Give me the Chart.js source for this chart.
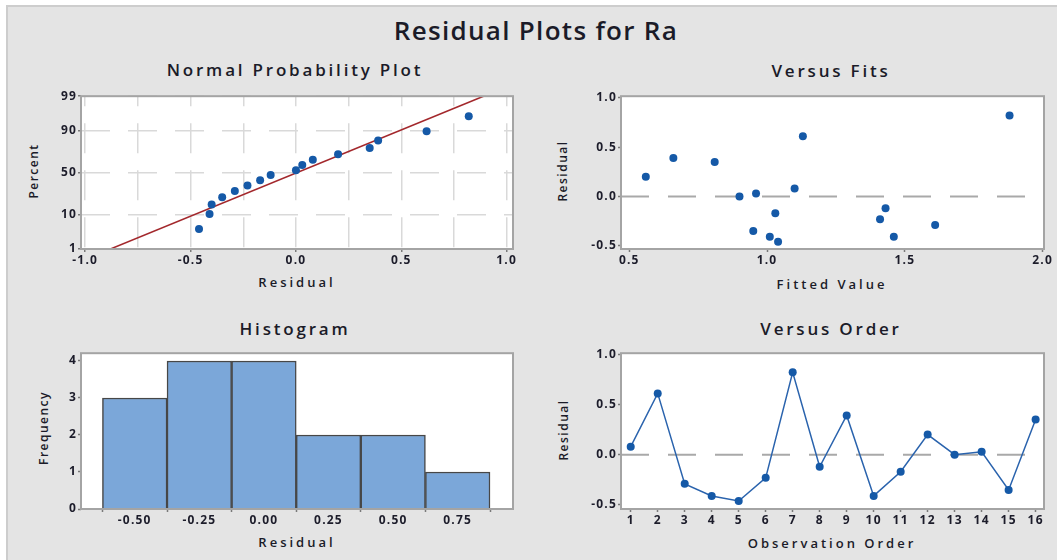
<!DOCTYPE html>
<html>
<head>
<meta charset="utf-8">
<script src="https://cdn.jsdelivr.net/npm/chart.js@4"></script>
<style>
body { margin: 0; width: 1057px; height: 560px; overflow: hidden; position: relative; background: #fff; font-family: "Open Sans", sans-serif; }
#frame { position: absolute; left: 6px; top: 5px; width: 1070px; height: 580px; background: #e4e4e4; border: 2px solid #cdcdcd; box-sizing: border-box; }
.t { position: absolute; color: #1b1b28; white-space: nowrap; transform: translate(-50%, -50%); font-weight: 600; }
.main { font-size: 26px; letter-spacing: 1.3px; }
.pt { font-size: 17px; letter-spacing: 2.8px; }
.ax { font-size: 13px; letter-spacing: 3px; }
.ay { font-size: 12px; letter-spacing: 1.5px; transform: translate(-50%, -50%) rotate(-90deg); }
canvas { position: absolute; }
</style>
</head>
<body>
<div id="frame"></div>

<div class="t main" style="left:536px;top:30px">Residual Plots for Ra</div>
<div class="t pt" style="left:295px;top:69px">Normal Probability Plot</div>
<div class="t pt" style="left:831px;top:70px">Versus Fits</div>
<div class="t pt" style="left:295px;top:328px">Histogram</div>
<div class="t pt" style="left:831px;top:328px">Versus Order</div>

<div class="t ax" style="left:297px;top:282px">Residual</div>
<div class="t ax" style="left:832px;top:284px">Fitted Value</div>
<div class="t ax" style="left:297px;top:542px">Residual</div>
<div class="t ax" style="left:832px;top:543px">Observation Order</div>

<div class="t ay" style="left:33px;top:171px">Percent</div>
<div class="t ay" style="left:562px;top:171px">Residual</div>
<div class="t ay" style="left:43px;top:428px">Frequency</div>
<div class="t ay" style="left:563px;top:430px">Residual</div>

<canvas id="normPlot" width="520" height="210" style="left:10px;top:88px"></canvas>
<canvas id="fitsPlot" width="505" height="210" style="left:548px;top:88px"></canvas>
<canvas id="histPlot" width="520" height="215" style="left:10px;top:345px"></canvas>
<canvas id="orderPlot" width="505" height="215" style="left:548px;top:345px"></canvas>

<script>
// normal probability plot (residuals sorted, percent)
const normResidual = [-0.46, -0.41, -0.40, -0.35, -0.29, -0.23, -0.17, -0.12, 0.00, 0.03, 0.08, 0.20, 0.35, 0.39, 0.62, 0.82];
const normPercent = [4.3, 10.4, 16.5, 22.6, 28.7, 34.8, 40.9, 47.0, 53.0, 59.1, 65.2, 71.3, 77.4, 83.5, 89.6, 95.7];
const fitLineResidual = [-0.88, 0.89];
const fitLinePercent = [1, 99];
const percentTicks = [1, 10, 50, 90, 99];
const normXTicks = [-1.0, -0.75, -0.5, -0.25, 0, 0.25, 0.5, 0.75, 1.0];

// versus fits / versus order
const observation = [1, 2, 3, 4, 5, 6, 7, 8, 9, 10, 11, 12, 13, 14, 15, 16];
const residual = [0.08, 0.61, -0.29, -0.41, -0.46, -0.23, 0.82, -0.12, 0.39, -0.41, -0.17, 0.20, 0.00, 0.03, -0.35, 0.35];
const fittedValue = [1.10, 1.13, 1.61, 1.01, 1.04, 1.41, 1.88, 1.43, 0.66, 1.46, 1.03, 0.56, 0.90, 0.96, 0.95, 0.81];
const fitsXTicks = [0.5, 1.0, 1.5, 2.0];
const residualTicks = [-0.5, 0.0, 0.5, 1.0];
const referenceLevel = 0;

// histogram
const binMid = [-0.50, -0.25, 0.00, 0.25, 0.50, 0.75];
const frequency = [3, 4, 4, 2, 2, 1];
const freqTicks = [0, 1, 2, 3, 4];

const blue = '#1559a7';
const gridGrey = '#d9d9d9';

Chart.defaults.font.family = '"Open Sans", sans-serif';
Chart.defaults.font.size = 12;
Chart.defaults.font.weight = 'bold';
Chart.defaults.color = '#1c1c2a';
Chart.defaults.animation = false;
Chart.defaults.plugins.legend.display = false;
Chart.defaults.plugins.tooltip.enabled = false;

// inverse normal cdf, used to put percent on a probability scale
function probit(pct) {
    const p = pct / 100;
    const a = [-3.969683028665376e+01, 2.209460984245205e+02, -2.759285104469687e+02, 1.383577518672690e+02, -3.066479806614716e+01, 2.506628277459239e+00];
    const b = [-5.447609879822406e+01, 1.615858368580409e+02, -1.556989798598866e+02, 6.680131188771972e+01, -1.328068155288572e+01];
    const c = [-7.784894002430293e-03, -3.223964580411365e-01, -2.400758277161838e+00, -2.549732539343734e+00, 4.374664141464968e+00, 2.938163982698783e+00];
    const d = [7.784695709041462e-03, 3.224671290700398e-01, 2.445134137142996e+00, 3.754408661907416e+00];
    const pl = 0.02425;
    let q, r;
    if (p < pl) {
        q = Math.sqrt(-2 * Math.log(p));
        return (((((c[0] * q + c[1]) * q + c[2]) * q + c[3]) * q + c[4]) * q + c[5]) / ((((d[0] * q + d[1]) * q + d[2]) * q + d[3]) * q + 1);
    }
    if (p > 1 - pl) {
        q = Math.sqrt(-2 * Math.log(1 - p));
        return -(((((c[0] * q + c[1]) * q + c[2]) * q + c[3]) * q + c[4]) * q + c[5]) / ((((d[0] * q + d[1]) * q + d[2]) * q + d[3]) * q + 1);
    }
    q = p - 0.5;
    r = q * q;
    return (((((a[0] * r + a[1]) * r + a[2]) * r + a[3]) * r + a[4]) * r + a[5]) * q / (((((b[0] * r + b[1]) * r + b[2]) * r + b[3]) * r + b[4]) * r + 1);
}

// white plot area + grey box round it, slightly spaced tick text
const plotFrame = {
    id: 'plotFrame',
    beforeDraw(chart) {
        const a = chart.chartArea;
        const ctx = chart.ctx;
        ctx.letterSpacing = '1.2px';
        ctx.save();
        ctx.fillStyle = '#ffffff';
        ctx.fillRect(a.left, a.top, a.right - a.left, a.bottom - a.top);
        ctx.restore();
    },
    afterDraw(chart) {
        const a = chart.chartArea;
        const ctx = chart.ctx;
        ctx.save();
        ctx.strokeStyle = '#a4a4a4';
        ctx.lineWidth = 2;
        ctx.strokeRect(a.left, a.top, a.right - a.left, a.bottom - a.top);
        ctx.restore();
    }
};

function fixedTicks(list) {
    return scale => { scale.ticks = list.map(v => ({ value: v })); };
}

function xAxis(min, max, tickList, height, label, extra) {
    return Object.assign({
        type: 'linear',
        min: min,
        max: max,
        offset: false,
        afterBuildTicks: fixedTicks(tickList),
        afterFit: s => { s.height = height; },
        border: { display: false },
        grid: { drawOnChartArea: false, drawTicks: true, tickLength: 3, tickColor: '#7a7a7a', tickWidth: 1.5 },
        ticks: { padding: 1, maxRotation: 0, autoSkip: false, callback: label }
    }, extra || {});
}

function yAxis(min, max, tickList, width, label, extra) {
    return Object.assign({
        type: 'linear',
        min: min,
        max: max,
        afterBuildTicks: fixedTicks(tickList),
        afterFit: s => { s.width = width; },
        border: { display: false },
        grid: { drawOnChartArea: false, drawTicks: true, tickLength: 3, tickColor: '#7a7a7a', tickWidth: 1.5 },
        ticks: { padding: 1, autoSkip: false, callback: label }
    }, extra || {});
}

// Normal probability plot
new Chart(document.getElementById('normPlot'), {
    type: 'scatter',
    data: {
        datasets: [
            {
                data: normResidual.map((r, i) => ({ x: r, y: probit(normPercent[i]) })),
                pointRadius: 4,
                pointBackgroundColor: blue,
                pointBorderColor: blue,
                pointBorderWidth: 0
            },
            {
                data: fitLineResidual.map((r, i) => ({ x: r, y: probit(fitLinePercent[i]) })),
                showLine: true,
                borderColor: '#a3282c',
                borderWidth: 1.5,
                pointRadius: 0
            }
        ]
    },
    options: {
        responsive: false,
        layout: { padding: { top: 7, right: 17, left: 0, bottom: 0 } },
        scales: {
            x: xAxis(-1.02, 1.03, normXTicks, 49, v => (Math.abs(v * 2 - Math.round(v * 2)) < 1e-6 ? v.toFixed(1) : ''), {
                grid: {
                    drawOnChartArea: true, drawTicks: true, tickLength: 3, tickWidth: 1.5, lineWidth: 1.5,
                    color: gridGrey,
                    tickColor: ctx => (ctx.tick && Math.abs(ctx.tick.value * 2 - Math.round(ctx.tick.value * 2)) < 1e-6 ? '#7a7a7a' : 'rgba(0,0,0,0)')
                },
                border: { display: false, dash: [30, 17], dashOffset: 20 }
            }),
            y: yAxis(probit(1), probit(99), percentTicks.map(probit), 71, (v, i) => percentTicks[i], {
                grid: { drawOnChartArea: true, drawTicks: true, tickLength: 3, tickWidth: 1.5, lineWidth: 1.5, color: gridGrey, tickColor: '#7a7a7a' },
                border: { display: false, dash: [29, 18], dashOffset: 0 }
            })
        }
    },
    plugins: [plotFrame]
});

// Versus fits
new Chart(document.getElementById('fitsPlot'), {
    type: 'scatter',
    data: {
        datasets: [
            {
                data: fittedValue.map((f, i) => ({ x: f, y: residual[i] })),
                pointRadius: 4,
                pointBackgroundColor: blue,
                pointBorderColor: blue,
                pointBorderWidth: 0
            },
            {
                data: [{ x: 0.47, y: referenceLevel }, { x: 2.005, y: referenceLevel }],
                showLine: true,
                borderColor: '#a9a9a9',
                borderWidth: 2,
                borderDash: [28, 19],
                pointRadius: 0
            }
        ]
    },
    options: {
        responsive: false,
        layout: { padding: { top: 7, right: 9, left: 0, bottom: 0 } },
        scales: {
            x: xAxis(0.47, 2.005, fitsXTicks, 49, v => v.toFixed(1)),
            y: yAxis(-0.533, 1.017, residualTicks, 73, v => v.toFixed(1))
        }
    },
    plugins: [plotFrame]
});

// Histogram
new Chart(document.getElementById('histPlot'), {
    type: 'bar',
    data: {
        datasets: [{
            data: binMid.map((m, i) => ({ x: m, y: frequency[i] })),
            backgroundColor: '#7ba7d9',
            borderColor: '#474747',
            borderWidth: 1.5,
            barPercentage: 1,
            categoryPercentage: 1
        }]
    },
    options: {
        responsive: false,
        layout: { padding: { top: 8, right: 17, left: 0, bottom: 0 } },
        scales: {
            x: xAxis(-0.708, 0.964, binMid, 51, v => v.toFixed(2)),
            y: yAxis(0, 4.21, freqTicks, 71, v => v.toFixed(0))
        }
    },
    plugins: [plotFrame]
});

// Versus order
new Chart(document.getElementById('orderPlot'), {
    type: 'scatter',
    data: {
        datasets: [
            {
                data: observation.map((o, i) => ({ x: o, y: residual[i] })),
                showLine: true,
                borderColor: '#2a63ad',
                borderWidth: 1.5,
                pointRadius: 4,
                pointBackgroundColor: blue,
                pointBorderColor: blue,
                pointBorderWidth: 0
            },
            {
                data: [{ x: 0.64, y: referenceLevel }, { x: 16.31, y: referenceLevel }],
                showLine: true,
                borderColor: '#a9a9a9',
                borderWidth: 2,
                borderDash: [28, 19],
                pointRadius: 0
            }
        ]
    },
    options: {
        responsive: false,
        layout: { padding: { top: 8, right: 9, left: 0, bottom: 0 } },
        scales: {
            x: xAxis(0.64, 16.31, observation, 51, v => v.toFixed(0)),
            y: yAxis(-0.54, 1.01, residualTicks, 73, v => v.toFixed(1))
        }
    },
    plugins: [plotFrame]
});
</script>
</body>
</html>
